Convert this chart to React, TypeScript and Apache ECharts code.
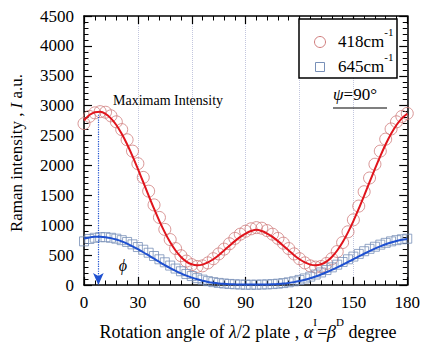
import React, { useEffect, useRef } from "react";
import * as echarts from "echarts";

const FONT = "Liberation Serif";

// Rotation angle (degree)
const angleDeg = [
  0, 3, 6, 9, 12, 15, 18, 21, 24, 27,
  30, 33, 36, 39, 42, 45, 48, 51, 54, 57,
  60, 63, 66, 69, 72, 75, 78, 81, 84, 87,
  90, 93, 96, 99, 102, 105, 108, 111, 114, 117,
  120, 123, 126, 129, 132, 135, 138, 141, 144, 147,
  150, 153, 156, 159, 162, 165, 168, 171, 174, 177,
  180,
];

// 418 cm-1 measured (circles)
const red418Measured = [
  2700, 2820, 2880, 2900, 2890, 2830, 2730, 2600, 2430, 2240,
  2030, 1800, 1570, 1340, 1130, 930, 760, 610, 490, 400,
  340, 310, 320, 370, 440, 520, 600, 690, 780, 850,
  900, 940, 960, 950, 910, 850, 780, 700, 610, 520,
  440, 370, 320, 300, 310, 360, 440, 560, 710, 890,
  1090, 1320, 1560, 1790, 2020, 2240, 2440, 2610, 2730, 2820,
  2870,
];

// 418 cm-1 fitted curve
const red418Fit = [
  2755, 2843, 2891, 2898, 2864, 2788, 2676, 2529, 2354, 2156,
  1942, 1719, 1495, 1276, 1069, 881, 715, 577, 469, 392,
  346, 330, 341, 377, 431, 499, 577, 657, 734, 804,
  861, 903, 926, 903, 861, 804, 734, 657, 577, 499,
  431, 377, 341, 330, 346, 392, 469, 577, 715, 881,
  1069, 1276, 1495, 1719, 1942, 2156, 2354, 2529, 2676, 2788,
  2864,
];

// 645 cm-1 measured (squares)
const blue645Measured = [
  730, 770, 790, 800, 800, 790, 775, 750, 720, 680,
  635, 590, 540, 485, 430, 380, 325, 275, 230, 185,
  150, 115, 90, 65, 48, 35, 25, 18, 12, 8,
  5, 5, 5, 8, 10, 15, 22, 32, 45, 62,
  85, 110, 140, 175, 210, 250, 295, 340, 385, 430,
  475, 520, 565, 605, 640, 675, 705, 730, 750, 765,
  775,
];

// 645 cm-1 fitted curve
const blue645Fit = [
  777, 796, 806, 808, 800, 784, 760, 729, 691, 647,
  599, 548, 494, 440, 386, 333, 283, 237, 194, 156,
  123, 95, 71, 52, 38, 27, 19, 14, 11, 9,
  8, 8, 8, 8, 9, 12, 17, 24, 35, 48,
  66, 88, 113, 143, 176, 213, 252, 295, 339, 385,
  431, 478, 523, 567, 609, 647, 681, 711, 736, 756,
  769,
];

// maximum-intensity marker (angle, top value, arrow end value)
const maxMarkAngle = 8;
const maxMarkTop = 2850;
const maxMarkEnd = 0;

const RED = "#e0141c";
const BLUE = "#1e50d0";
const CIRCLE = "#d07c7c";
const SQUARE = "#7890b8";

export default function App() {
  const ref = useRef<HTMLDivElement>(null);

  useEffect(() => {
    const chart = echarts.init(ref.current!, null, { renderer: "svg" });
    const pair = (ys: number[]) => angleDeg.map((a, i) => [a, ys[i]]);

    const axisLine = { show: true, onZero: false, lineStyle: { color: "#000", width: 1.5 } };
    const tick = { show: true, inside: true, length: 8, lineStyle: { color: "#000", width: 1.2 } };
    const minor = { show: true, splitNumber: 5, length: 4.5, lineStyle: { color: "#000", width: 1 } };
    const label = {
      show: true, color: "#000", fontFamily: FONT, fontSize: 17,
      showMinLabel: true, showMaxLabel: true,
      formatter: (v: number) => String(v),
    };

    const supRich = (size: number) => ({
      t: { fontSize: size, fontFamily: FONT, fill: "#000", padding: [7, 0, 0, 0] },
      i: { fontSize: size, fontFamily: FONT, fontStyle: "italic", fill: "#000", padding: [7, 0, 0, 0] },
      s: { fontSize: 11, fontFamily: FONT, fill: "#000", verticalAlign: "top" },
    });
    const plainRich = {
      t: { fontSize: 17, fontFamily: FONT, fill: "#000" },
      i: { fontSize: 17, fontFamily: FONT, fontStyle: "italic", fill: "#000" },
    };

    chart.setOption({
      animation: false,
      backgroundColor: "#fff",
      textStyle: { fontFamily: FONT },
      grid: { left: 84, right: 13, top: 16, bottom: 66 },
      xAxis: [
        {
          type: "value", min: 0, max: 180, interval: 30, position: "bottom",
          axisLine, axisTick: tick, minorTick: minor,
          axisLabel: { ...label, margin: 9 },
          splitLine: { show: true, lineStyle: { color: "#c2c6de", type: "dotted", width: 1 } },
        },
        {
          type: "value", min: 0, max: 180, interval: 30, position: "top",
          axisLine, axisTick: tick, minorTick: minor,
          axisLabel: { show: false }, splitLine: { show: false },
        },
      ],
      yAxis: [
        {
          type: "value", min: 0, max: 4500, interval: 500, position: "left",
          axisLine, axisTick: tick, minorTick: minor,
          axisLabel: { ...label, margin: 10 },
          splitLine: { show: false },
        },
        {
          type: "value", min: 0, max: 4500, interval: 500, position: "right",
          axisLine, axisTick: tick, minorTick: minor,
          axisLabel: { show: false }, splitLine: { show: false },
        },
      ],
      series: [
        {
          name: "418cm-1", type: "scatter", data: pair(red418Measured),
          symbol: "circle", symbolSize: 12, z: 2,
          itemStyle: { color: "rgba(0,0,0,0)", borderColor: CIRCLE, borderWidth: 1 },
        },
        {
          name: "645cm-1", type: "scatter", data: pair(blue645Measured),
          symbol: "rect", symbolSize: 9, z: 2,
          itemStyle: { color: "rgba(0,0,0,0)", borderColor: SQUARE, borderWidth: 1 },
        },
        {
          name: "418 fit", type: "line", data: pair(red418Fit), smooth: 0.3,
          showSymbol: false, z: 3, lineStyle: { color: RED, width: 2 },
        },
        {
          name: "645 fit", type: "line", data: pair(blue645Fit), smooth: 0.3,
          showSymbol: false, z: 3, lineStyle: { color: BLUE, width: 2 },
          markLine: {
            silent: true, symbol: ["none", "arrow"], symbolSize: [8, 12],
            label: { show: false },
            lineStyle: { color: BLUE, type: "dotted", width: 1.2 },
            data: [[{ coord: [maxMarkAngle, maxMarkTop] }, { coord: [maxMarkAngle, maxMarkEnd] }]],
          },
        },
      ],
      graphic: [
        // legend box
        { type: "rect", z: 100, shape: { x: 299, y: 19, width: 98, height: 59 },
          style: { fill: "#fff", stroke: "#000", lineWidth: 1.5 } },
        { type: "circle", z: 101, shape: { cx: 320, cy: 42, r: 5.5 },
          style: { fill: "none", stroke: CIRCLE, lineWidth: 1 } },
        { type: "rect", z: 101, shape: { x: 315.5, y: 62.5, width: 9, height: 9 },
          style: { fill: "none", stroke: SQUARE, lineWidth: 1 } },
        { type: "text", z: 101, x: 338, y: 38,
          style: { text: "{t|418cm}{s|-1}", verticalAlign: "middle", rich: supRich(17) } },
        { type: "text", z: 101, x: 338, y: 63,
          style: { text: "{t|645cm}{s|-1}", verticalAlign: "middle", rich: supRich(17) } },
        // psi annotation
        { type: "text", z: 101, x: 333, y: 94,
          style: { text: "{i|ψ}{t|=90°}", verticalAlign: "middle", rich: plainRich } },
        { type: "line", z: 101, shape: { x1: 333, y1: 108, x2: 387, y2: 108 },
          style: { stroke: "#000", lineWidth: 1.2 } },
        // other annotations
        { type: "text", z: 50, x: 113, y: 100,
          style: { text: "Maximam Intensity", fontSize: 14, fontFamily: FONT, fill: "#000", verticalAlign: "middle" } },
        { type: "text", z: 50, x: 123, y: 265,
          style: { text: "ϕ", fontSize: 16, fontFamily: FONT, fontStyle: "italic", fill: "#000", align: "center", verticalAlign: "middle" } },
        // axis titles
        { type: "text", z: 50, x: 248, y: 328.5,
          style: {
            text: "{t|Rotation angle of }{i|λ}{t|/2 plate , }{i|α}{s|I}{t|=}{i|β}{s|D}{t| degree}",
            align: "center", verticalAlign: "middle", rich: supRich(18),
          } },
        { type: "text", z: 50, x: 16, y: 153, rotation: Math.PI / 2,
          style: {
            text: "{t|Raman intensity , }{i|I}{t| a.u.}",
            align: "center", verticalAlign: "middle", rich: plainRich,
          } },
      ],
    });

    return () => chart.dispose();
  }, []);

  return (
    <div
      ref={ref}
      style={{ position: "fixed", left: 0, top: 0, width: 423, height: 351, background: "#fff" }}
    />
  );
}
